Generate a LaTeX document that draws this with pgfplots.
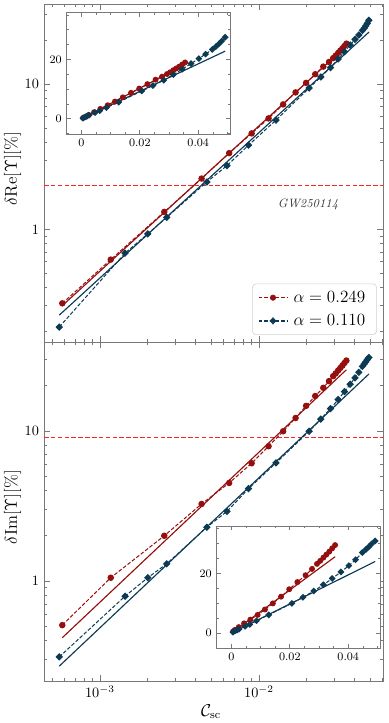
\documentclass[border=0pt]{standalone}
\usepackage{pgfplots}
\usepackage{pgfplotstable}
\pgfplotsset{compat=1.18}
\definecolor{mred}{RGB}{150,15,15}
\definecolor{mblue}{RGB}{12,58,84}
\definecolor{refline}{RGB}{255,35,35}
\definecolor{framec}{RGB}{120,120,120}

\pgfplotstableread{
x re im
0.00058 0.31 0.507
0.00117 0.62 1.05
0.00254 1.32 2.00
0.00436 2.24 3.26
0.0065 3.35 4.50
0.0090 4.58 6.09
0.0115 5.81 7.91
0.0142 7.25 9.95
0.0170 8.77 12.2
0.0198 10.2 14.7
0.0226 11.7 17.1
0.0254 13.2 19.4
0.0276 14.2 21.5
0.0293 15.1 23.2
0.0304 15.7 24.2
0.0315 16.4 25.3
0.0325 17.0 26.3
0.0335 17.6 27.3
0.0345 18.3 28.4
0.0355 19.0 29.5
}\reddata

\pgfplotstableread{
x re im
0.000555 0.213 0.311
0.00144 0.687 0.791
0.0020 0.933 1.05
0.00263 1.21 1.30
0.0047 2.12 2.28
0.0063 2.75 2.91
0.0086 3.80 4.12
0.0128 5.65 6.12
0.0207 9.4 9.95
0.0245 11.2 12.0
0.0282 13.0 14.1
0.0315 14.9 16.2
0.0345 16.7 18.3
0.0375 18.6 20.5
0.0402 20.3 22.6
0.0425 21.8 24.6
0.0448 23.4 27.0
0.0460 24.3 28.0
0.0470 25.2 28.9
0.0480 26.2 29.9
0.0492 27.5 30.9
}\bluedata

\pgfplotstableread{
x re im
0.00058 0.299 0.418
0.0355 18.3 25.6
}\redfit

\pgfplotstableread{
x re im
0.000555 0.257 0.270
0.0492 22.8 24.0
}\bluefit

\pgfplotstableread{
x re im
4.45e-4 2.0 9.0
0.0603 2.0 9.0
}\gwline

\tikzset{
  reddat/.style={color=mred, draw=mred, line width=0.7pt, dash pattern=on 2.6pt off 1.3pt,
    mark=*, mark size=1.9pt, mark options={solid, fill=mred, draw=mred}},
  bluedat/.style={color=mblue, draw=mblue, line width=0.7pt, dash pattern=on 2.6pt off 1.3pt,
    mark=square*, mark size=1.5pt, mark options={solid, rotate=45, fill=mblue, draw=mblue}},
  redin/.style={reddat, mark size=1.7pt},
  bluein/.style={bluedat, mark size=1.35pt},
  redfitst/.style={color=mred, draw=mred, line width=0.8pt, mark=none, solid},
  bluefitst/.style={color=mblue, draw=mblue, line width=0.8pt, mark=none, solid},
  gwst/.style={color=refline, draw=refline, line width=0.95pt, mark=none, dash pattern=on 3.2pt off 1.6pt},
  redleg/.style={draw=mred, line width=0.9pt, dash pattern=on 2.6pt off 1.3pt},
  blueleg/.style={draw=mblue, line width=0.9pt, dash pattern=on 2.6pt off 1.3pt},
}

\begin{document}
\begin{tikzpicture}
\path[use as bounding box] (0,0) rectangle (272.3pt,506.1pt);

% ---------- top main panel ----------
\begin{axis}[
  scale only axis,
  axis line style={framec, line width=0.6pt},
  tick style={framec, line width=0.5pt},
  tick align=inside,
  xtick pos=both, ytick pos=both,
  width=237.3pt,
  xmode=log, ymode=log,
  xmin=4.45e-4, xmax=0.0603,
  xtick={1e-3,1e-2},
  minor xtick={5e-4,6e-4,7e-4,8e-4,9e-4,2e-3,3e-3,4e-3,5e-3,6e-3,7e-3,8e-3,9e-3,2e-2,3e-2,4e-2,5e-2,6e-2},
  ytick={1,10}, yticklabels={$1$,$10$},
  minor ytick={0.2,0.3,0.4,0.5,0.6,0.7,0.8,0.9,2,3,4,5,6,7,8,9,20,30},
  major tick length=4.2pt, minor tick length=2.2pt,
  ylabel style={at={(axis description cs:-0.093,0.513)}, anchor=center, font=\fontsize{11.5}{13}\selectfont},
  at={(30.8pt,266.7pt)}, anchor=south west,
  height=236.6pt,
  ymin=0.168, ymax=35.6,
  xticklabels={},
  ylabel={$\delta\mathrm{Re}[\Upsilon][\%]$},
  legend style={at={(0.982,0.021)}, anchor=south east, draw=black!18,
    rounded corners=2.5pt, fill=white, font=\fontsize{11.5}{13}\selectfont,
    inner xsep=4pt, inner ysep=3pt, row sep=3pt,
    nodes={inner xsep=4pt}},
  legend cell align=left,
]
\addplot[gwst, forget plot] table[x=x, y=re] {\gwline};
\addplot[redfitst, forget plot] table[x=x, y=re] {\redfit};
\addplot[bluefitst, forget plot] table[x=x, y=re] {\bluefit};
\addplot[reddat, forget plot] table[x=x, y=re] {\reddata};
\addplot[bluedat, forget plot] table[x=x, y=re] {\bluedata};
\addlegendimage{legend image code/.code={%
  \draw[redleg] (0cm,0cm) -- (0.7cm,0cm);
  \fill[mred] (0.35cm,0cm) circle (1.9pt);}}
\addlegendentry{$\alpha=0.249$}
\addlegendimage{legend image code/.code={%
  \draw[blueleg] (0cm,0cm) -- (0.7cm,0cm);
  \fill[mblue] (0.35cm,2.1pt) -- (0.35cm+2.1pt,0cm) -- (0.35cm,-2.1pt) -- (0.35cm-2.1pt,0cm) -- cycle;}}
\addlegendentry{$\alpha=0.110$}
\node[font=\itshape\fontsize{8.5}{10}\selectfont, text=black!80] at (rel axis cs:0.779,0.408) {GW250114};
\end{axis}

% ---------- top inset ----------
\begin{axis}[
  scale only axis,
  axis line style={framec, line width=0.6pt},
  tick style={framec, line width=0.5pt},
  tick align=inside,
  xtick pos=both, ytick pos=both,
  width=114.8pt, height=85.2pt,
  xmin=-0.005, xmax=0.0511, ymin=-5.1, ymax=35.9,
  scaled x ticks=false, scaled y ticks=false,
  xtick={0,0.02,0.04}, xticklabels={$0$,$0.02$,$0.04$},
  ytick={0,20}, yticklabels={$0$,$20$},
  minor xtick={-0.005,0.005,0.01,0.015,0.025,0.03,0.035,0.045,0.05},
  minor ytick={-5,5,10,15,25,30,35},
  major tick length=3pt, minor tick length=1.6pt,
  tick label style={font=\fontsize{7.6}{9}\selectfont},
  axis background/.style={fill=white},
  at={(46.7pt,412.3pt)}, anchor=south west]
\addplot[redfitst] table[x=x, y=re] {\redfit};
\addplot[bluefitst] table[x=x, y=re] {\bluefit};
\addplot[redin] table[x=x, y=re] {\reddata};
\addplot[bluein] table[x=x, y=re] {\bluedata};
\end{axis}

% ---------- bottom main panel ----------
\begin{axis}[
  scale only axis,
  axis line style={framec, line width=0.6pt},
  tick style={framec, line width=0.5pt},
  tick align=inside,
  xtick pos=both, ytick pos=both,
  width=237.3pt,
  xmode=log, ymode=log,
  xmin=4.45e-4, xmax=0.0603,
  xtick={1e-3,1e-2},
  minor xtick={5e-4,6e-4,7e-4,8e-4,9e-4,2e-3,3e-3,4e-3,5e-3,6e-3,7e-3,8e-3,9e-3,2e-2,3e-2,4e-2,5e-2,6e-2},
  ytick={1,10}, yticklabels={$1$,$10$},
  minor ytick={0.2,0.3,0.4,0.5,0.6,0.7,0.8,0.9,2,3,4,5,6,7,8,9,20,30},
  major tick length=4.2pt, minor tick length=2.2pt,
  ylabel style={at={(axis description cs:-0.093,0.513)}, anchor=center, font=\fontsize{11.5}{13}\selectfont},
  at={(30.8pt,29.4pt)}, anchor=south west,
  height=237.3pt,
  ymin=0.215, ymax=39.2,
  ylabel={$\delta\mathrm{Im}[\Upsilon][\%]$},
  xlabel={$\mathcal{C}_{\mathrm{sc}}$},
  xlabel style={at={(axis description cs:0.493,-0.0906)}, anchor=center, font=\fontsize{12}{14}\selectfont},
]
\addplot[gwst] table[x=x, y=im] {\gwline};
\addplot[redfitst] table[x=x, y=im] {\redfit};
\addplot[bluefitst] table[x=x, y=im] {\bluefit};
\addplot[reddat] table[x=x, y=im] {\reddata};
\addplot[bluedat] table[x=x, y=im] {\bluedata};
\end{axis}

% ---------- bottom inset ----------
\begin{axis}[
  scale only axis,
  axis line style={framec, line width=0.6pt},
  tick style={framec, line width=0.5pt},
  tick align=inside,
  xtick pos=both, ytick pos=both,
  width=114.8pt, height=85.6pt,
  xmin=-0.005, xmax=0.0511, ymin=-5.1, ymax=35.9,
  scaled x ticks=false, scaled y ticks=false,
  xtick={0,0.02,0.04}, xticklabels={$0$,$0.02$,$0.04$},
  ytick={0,20}, yticklabels={$0$,$20$},
  minor xtick={-0.005,0.005,0.01,0.015,0.025,0.03,0.035,0.045,0.05},
  minor ytick={-5,5,10,15,25,30,35},
  major tick length=3pt, minor tick length=1.6pt,
  tick label style={font=\fontsize{7.6}{9}\selectfont},
  axis background/.style={fill=white},
  at={(151.7pt,52.3pt)}, anchor=south west]
\addplot[redfitst] table[x=x, y=im] {\redfit};
\addplot[bluefitst] table[x=x, y=im] {\bluefit};
\addplot[redin] table[x=x, y=im] {\reddata};
\addplot[bluein] table[x=x, y=im] {\bluedata};
\end{axis}
\end{tikzpicture}
\end{document}
